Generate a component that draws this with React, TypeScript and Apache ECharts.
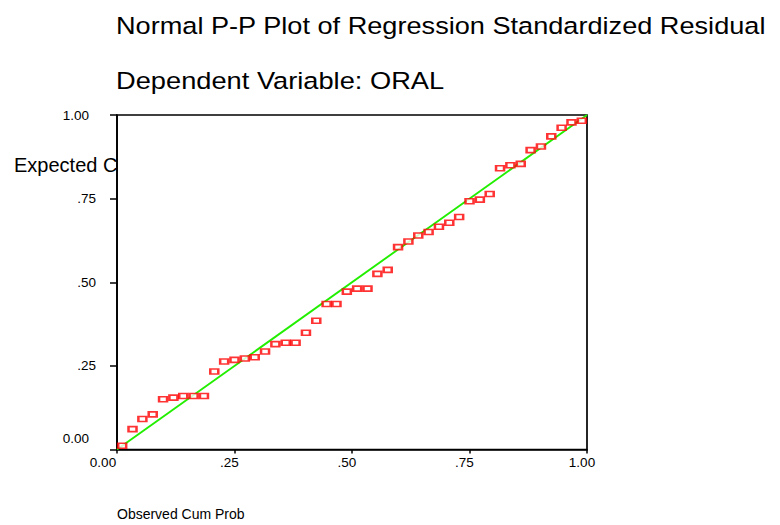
import React, { useEffect, useRef } from 'react';
import * as echarts from 'echarts';

const observedCumProb = [
  0.011, 0.033, 0.054, 0.076, 0.098, 0.120, 0.141, 0.163, 0.185, 0.207,
  0.228, 0.250, 0.272, 0.293, 0.315, 0.337, 0.359, 0.380, 0.402, 0.424,
  0.446, 0.467, 0.489, 0.511, 0.533, 0.554, 0.576, 0.598, 0.620, 0.641,
  0.663, 0.685, 0.707, 0.728, 0.750, 0.772, 0.793, 0.815, 0.837, 0.859,
  0.880, 0.902, 0.924, 0.946, 0.967, 0.989,
];
const expectedCumProb = [
  0.011, 0.061, 0.091, 0.105, 0.150, 0.155, 0.160, 0.160, 0.160, 0.233,
  0.263, 0.268, 0.272, 0.276, 0.293, 0.315, 0.319, 0.319, 0.349, 0.385,
  0.435, 0.435, 0.472, 0.481, 0.481, 0.525, 0.537, 0.605, 0.622, 0.640,
  0.650, 0.666, 0.678, 0.695, 0.742, 0.747, 0.764, 0.841, 0.850, 0.854,
  0.895, 0.906, 0.936, 0.962, 0.978, 0.983,
];
const referenceLine = [[0, 0], [1, 1]];
const xTickLabels = ['0.00', '.25', '.50', '.75', '1.00'];
const yTickLabels = ['0.00', '.25', '.50', '.75', '1.00'];
const titleText = 'Normal P-P Plot of Regression Standardized Residual';
const subtitleText = 'Dependent Variable: ORAL';
const yAxisName = 'Expected C';
const xAxisName = 'Observed Cum Prob';

export default function App() {
  const ref = useRef<HTMLDivElement>(null);
  useEffect(() => {
    if (!ref.current) return;
    const chart = echarts.init(ref.current, null, { renderer: 'svg' });
    const font = "Arial, 'Liberation Sans', Helvetica, sans-serif";
    const labelBase = { fontSize: 13.5, fontFamily: font, color: '#000' };
    chart.setOption({
      animation: false,
      backgroundColor: '#ffffff',
      grid: {
        left: 117, top: 115, width: 470, height: 334.5,
        show: true, borderColor: '#000', borderWidth: 1.7, backgroundColor: 'transparent',
      },
      xAxis: {
        type: 'value', min: 0, max: 1, interval: 0.25,
        axisLine: { show: true, lineStyle: { color: '#000', width: 1.7 } },
        axisTick: { show: true, length: 4, lineStyle: { color: '#000', width: 1.5 } },
        splitLine: { show: false },
        axisLabel: {
          ...labelBase, margin: 6, showMinLabel: true, showMaxLabel: true,
          formatter: (v: number) => {
            const i = Math.round(v / 0.25);
            return i === 0 ? `{first|${xTickLabels[i]}}` : `{n|${xTickLabels[i]}}`;
          },
          rich: {
            first: { ...labelBase, padding: [0, 28, 0, 0] },
            n: { ...labelBase, padding: [0, 10, 0, 0] },
          },
        },
      },
      yAxis: {
        type: 'value', min: 0, max: 1, interval: 0.25,
        axisLine: { show: true, lineStyle: { color: '#000', width: 1.7 } },
        axisTick: { show: true, length: 7, lineStyle: { color: '#000', width: 1.5 } },
        splitLine: { show: false },
        axisLabel: {
          ...labelBase, margin: 21, showMinLabel: true, showMaxLabel: true,
          formatter: (v: number) => {
            const i = Math.round(v / 0.25);
            if (i === 0) return `{first|${yTickLabels[i]}}`;
            if (i === 4) return `{last|${yTickLabels[i]}}`;
            return `{n|${yTickLabels[i]}}`;
          },
          rich: {
            first: { ...labelBase, padding: [0, 7, 22, 0] },
            last: { ...labelBase, padding: [0, 7, 0, 0] },
            n: { ...labelBase },
          },
        },
      },
      graphic: [
        {
          type: 'text', x: 116, y: 25.5, scaleX: 1.165,
          style: { text: titleText, fontSize: 23.3, fontFamily: font, fill: '#000', align: 'left', verticalAlign: 'middle' },
        },
        {
          type: 'text', x: 116, y: 81, scaleX: 1.17,
          style: { text: subtitleText, fontSize: 23.3, fontFamily: font, fill: '#000', align: 'left', verticalAlign: 'middle' },
        },
        {
          type: 'text', x: 14, y: 165,
          style: { text: yAxisName, fontSize: 20, fontFamily: font, fill: '#000', align: 'left', verticalAlign: 'middle' },
        },
        {
          type: 'text', x: 117, y: 514,
          style: { text: xAxisName, fontSize: 14, fontFamily: font, fill: '#000', align: 'left', verticalAlign: 'middle' },
        },
      ],
      series: [
        {
          type: 'line',
          data: referenceLine,
          symbol: 'none',
          lineStyle: { color: '#22ee00', width: 1.9 },
          z: 2,
        },
        {
          type: 'scatter',
          data: observedCumProb.map((x, i) => [x, expectedCumProb[i]]),
          symbol: 'rect',
          symbolSize: [8, 5],
          itemStyle: { color: '#ffffff', borderColor: '#ff0000', borderWidth: 2 },
          z: 3,
        },
      ],
    });
    return () => chart.dispose();
  }, []);
  return <div ref={ref} style={{ position: 'absolute', left: 0, top: 0, width: 780, height: 525 }} />;
}
